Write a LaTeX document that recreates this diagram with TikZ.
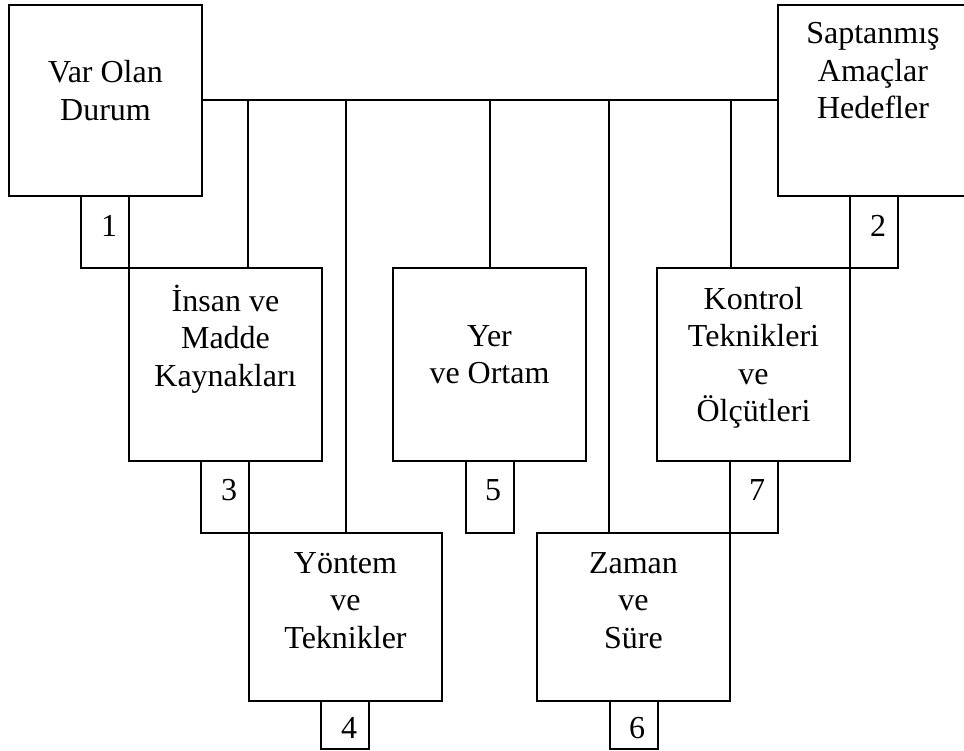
\documentclass[tikz,border=0pt]{standalone}
\usepackage{fontspec}
\setmainfont{Liberation Serif}
\begin{document}
\begin{tikzpicture}[x=1pt,y=-1pt,line width=2pt,
  bigbox/.style={draw,rectangle,inner sep=0pt,minimum width=193pt,minimum height=193pt},
  lowbox/.style={draw,rectangle,inner sep=0pt,minimum width=193pt,minimum height=168pt},
  tab/.style={draw,rectangle,inner sep=0pt,minimum width=48pt,minimum height=72pt},
  foot/.style={draw,rectangle,inner sep=0pt,minimum width=48pt,minimum height=48pt},
  lbl/.style={anchor=north,inner sep=0pt,align=center,font=\fontsize{32}{37.5}\selectfont},
  num/.style={anchor=base,inner sep=0pt,font=\fontsize{32}{37.5}\selectfont}]
\useasboundingbox (0,0) rectangle (964,751);
% main boxes
\node[bigbox,minimum height=191pt] (A) at (105.5,100.5) {};
\node[bigbox,minimum height=191pt] (B) at (874.5,100.5) {};
\node[bigbox] (I) at (225.5,364.5) {};
\node[bigbox] (R) at (489.5,364.5) {};
\node[bigbox] (K) at (753.5,364.5) {};
\node[lowbox] (Y) at (345.5,617) {};
\node[lowbox] (Z) at (633.5,617) {};
% number tabs
\node[tab] (n1) at (105,232) {};
\node[tab] (n2) at (874,232) {};
\node[tab] (n3) at (225,497) {};
\node[tab] (n5) at (489.5,497) {};
\node[tab] (n7) at (754,497) {};
\node[foot] (n4) at (345,725) {};
\node[foot] (n6) at (633.5,725) {};
% texts
\node[lbl] (tA) at (105.5,58) {\rule{0pt}{24pt}Var Olan\\Durum};
\node[lbl] (tB) at (873,19) {\rule{0pt}{24pt}Saptanmış\\Amaçlar\\Hedefler};
\node[lbl] (tI) at (225.5,284) {\rule{0pt}{24pt}İnsan ve\\Madde\\Kaynakları};
\node[lbl] (tR) at (489.5,321) {\rule{0pt}{24pt}Yer\\ve Ortam};
\node[lbl] (tK) at (753.5,284) {\rule{0pt}{24pt}Kontrol\\Teknikleri\\ve\\Ölçütleri};
\node[lbl] (tY) at (345.5,548) {\rule{0pt}{24pt}Yöntem\\ve\\Teknikler};
\node[lbl] (tZ) at (633.5,548) {\rule{0pt}{24pt}Zaman\\ve\\Süre};
\node[num] (l1) at (109,237) {1};
\node[num] (l2) at (878,237) {2};
\node[num] (l3) at (229,500) {3};
\node[num] (l5) at (493,500) {5};
\node[num] (l7) at (757,500) {7};
\node[num] (l4) at (349,738) {4};
\node[num] (l6) at (637,738) {6};
% connectors
\draw (A.east) -- (B.west);
\draw (Y.north west |- A.east) -- (Y.north west |- I.north);
\draw (Y.north |- A.east) -- (Y.north);
\draw (R.north |- A.east) -- (R.north);
\draw (n6.north west |- A.east) -- (n6.north west |- Z.north);
\draw (Z.north east |- A.east) -- (Z.north east |- K.north);
\end{tikzpicture}
\end{document}
